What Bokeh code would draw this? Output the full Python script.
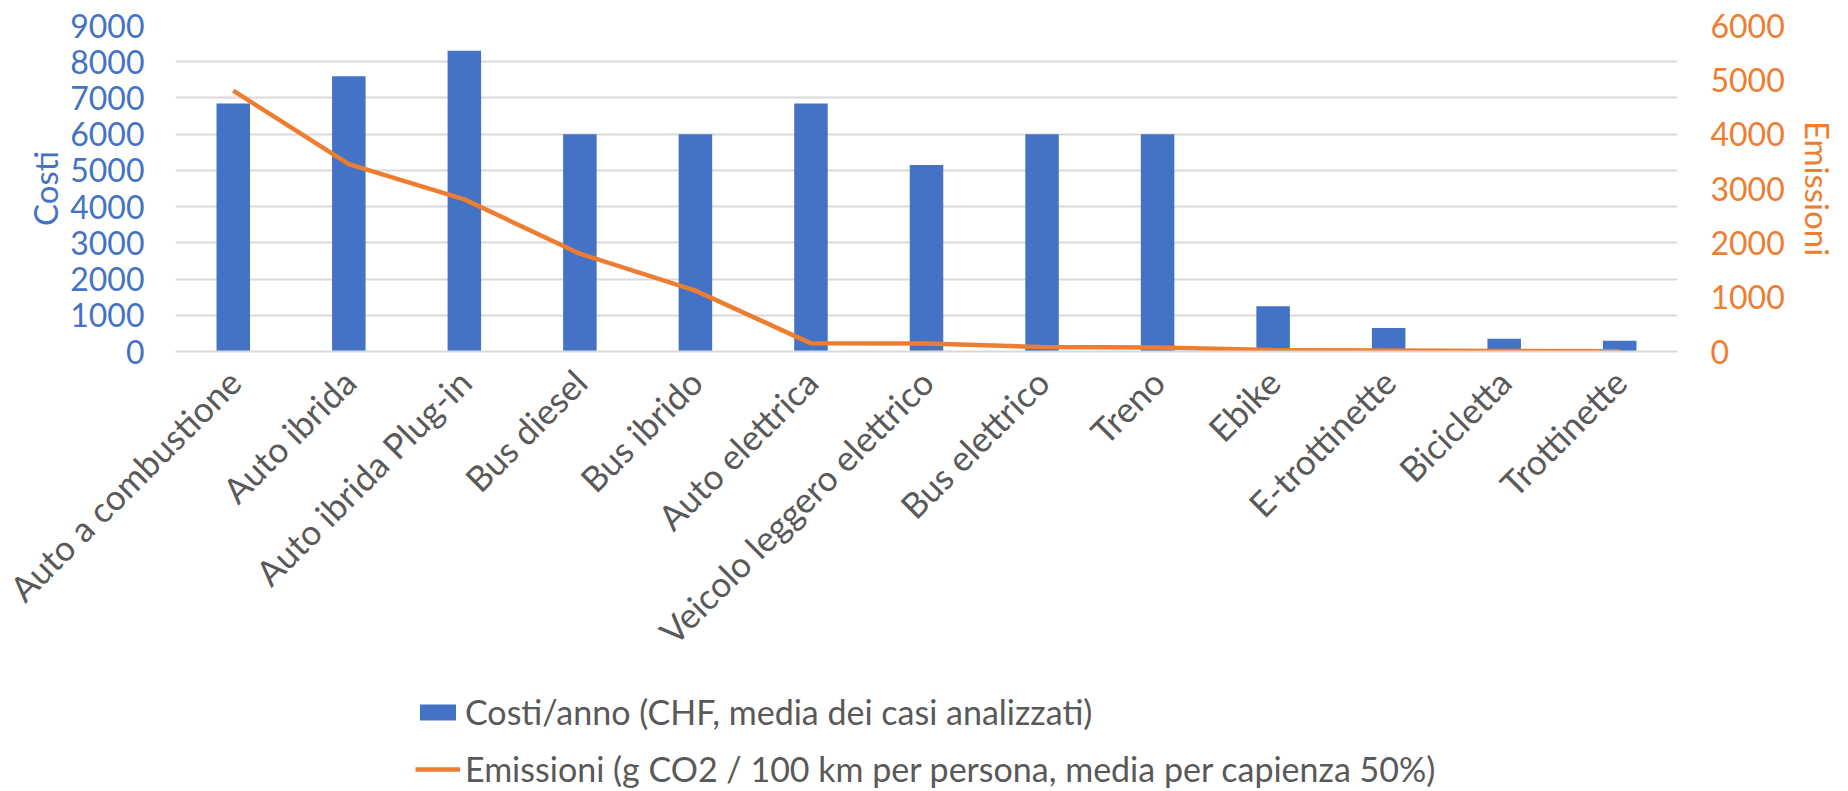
import math
from bokeh.plotting import figure
from bokeh.layouts import column
from bokeh.models import (Range1d, LinearAxis, FixedTicker, Legend, LegendItem,
                          FactorRange, ColumnDataSource)
from bokeh.embed import file_html
from bokeh.resources import INLINE

categories = ["Auto a combustione", "Auto ibrida", "Auto ibrida Plug-in", "Bus diesel",
              "Bus ibrido", "Auto elettrica", "Veicolo leggero elettrico", "Bus elettrico",
              "Treno", "Ebike", "E-trottinette", "Bicicletta", "Trottinette"]
costi = [6850, 7600, 8300, 6000, 6000, 6850, 5150, 6000, 6000, 1250, 650, 350, 300]
emissioni = [4800, 3450, 2800, 1800, 1120, 150, 145, 85, 75, 25, 20, 10, 5]
left_ticks = [0, 1000, 2000, 3000, 4000, 5000, 6000, 7000, 8000, 9000]
right_ticks = [0, 1000, 2000, 3000, 4000, 5000, 6000]
label_costi = "Costi/anno (CHF, media dei casi analizzati)"
label_emissioni = "Emissioni (g CO2 / 100 km per persona, media per capienza 50%)"

BLUE = "#4472C4"
ORANGE = "#ED7D31"
GRAY = "#595959"
GRID = "#D9D9D9"
FONT = "Lato"

W = 1848
H_MAIN = 688
H_LEG = 103
BL, BR = 175, 171

src = ColumnDataSource(dict(cat=categories, cost=costi, em=emissioni))

p = figure(x_range=FactorRange(*categories), y_range=Range1d(0, 9000),
           width=W, height=H_MAIN, output_backend="svg", toolbar_location=None,
           min_border_left=BL, min_border_right=BR, min_border_top=25,
           min_border_bottom=H_MAIN - 351)
p.extra_y_ranges = {"em": Range1d(0, 6000)}
p.outline_line_color = None
p.background_fill_color = "white"
p.border_fill_color = "white"

bars = p.vbar(x="cat", top="cost", width=0.29, source=src, fill_color=BLUE, line_color=None)
line = p.line(x="cat", y="em", source=src, y_range_name="em", line_color=ORANGE,
              line_width=4.5, line_join="round")

# left axis
ya = p.yaxis[0]
ya.ticker = FixedTicker(ticks=left_ticks)
ya.axis_line_color = None
ya.major_tick_line_color = None
ya.minor_tick_line_color = None
ya.major_tick_out = 0
ya.major_tick_in = 0
ya.major_label_standoff = 31
ya.major_label_text_font = FONT
ya.major_label_text_font_size = "32px"
ya.major_label_text_color = BLUE
ya.axis_label = "Costi"
ya.axis_label_text_font = FONT
ya.axis_label_text_font_size = "33px"
ya.axis_label_text_font_style = "normal"
ya.axis_label_text_color = BLUE
ya.axis_label_standoff = 2

# right axis
ra = LinearAxis(y_range_name="em", ticker=FixedTicker(ticks=right_ticks))
ra.axis_line_color = None
ra.major_tick_line_color = None
ra.minor_tick_line_color = None
ra.major_tick_out = 0
ra.major_tick_in = 0
ra.major_label_standoff = 33
ra.major_label_text_font = FONT
ra.major_label_text_font_size = "32px"
ra.major_label_text_color = ORANGE
ra.axis_label = "Emissioni"
ra.axis_label_text_font = FONT
ra.axis_label_text_font_size = "33px"
ra.axis_label_text_font_style = "normal"
ra.axis_label_text_color = ORANGE
ra.axis_label_standoff = 10
p.add_layout(ra, "right")

# x axis
xa = p.xaxis[0]
xa.major_label_orientation = math.pi / 4
xa.major_label_text_font = FONT
xa.major_label_text_font_size = "35px"
xa.major_label_text_color = GRAY
xa.major_tick_line_color = None
xa.major_tick_out = 0
xa.major_tick_in = 0
xa.axis_line_color = GRID
xa.axis_line_width = 2
xa.major_label_standoff = 24

p.xgrid.grid_line_color = None
p.ygrid.ticker = FixedTicker(ticks=left_ticks)
p.ygrid.grid_line_color = GRID
p.ygrid.grid_line_width = 2

# legend panel (same data, plotted out of view so only the legend shows)
lg = figure(x_range=FactorRange(*categories), y_range=Range1d(100000, 100001),
            width=W, height=H_LEG, output_backend="svg", toolbar_location=None,
            x_axis_location=None, y_axis_location=None,
            min_border_left=BL, min_border_right=BR, min_border_top=0, min_border_bottom=0)
lg.outline_line_color = None
lg.xgrid.grid_line_color = None
lg.ygrid.grid_line_color = None
lg_bars = lg.vbar(x="cat", top="cost", width=0.29, source=src, fill_color=BLUE, line_color=None)
lg_line = lg.line(x="cat", y="em", source=src, line_color=ORANGE, line_width=4.5)

legend = Legend(items=[LegendItem(label=label_costi, renderers=[lg_bars]),
                       LegendItem(label=label_emissioni, renderers=[lg_line])],
                location=(240, 2), orientation="vertical")
legend.label_text_font = FONT
legend.label_text_font_size = "34px"
legend.label_text_color = GRAY
legend.glyph_width = 45
legend.glyph_height = 20
legend.label_standoff = 5
legend.padding = 0
legend.margin = 0
legend.spacing = 16
legend.border_line_color = None
legend.background_fill_alpha = 0
lg.add_layout(legend, "center")

layout = column(p, lg, spacing=0)
open("out.html", "w").write(file_html(layout, INLINE))
